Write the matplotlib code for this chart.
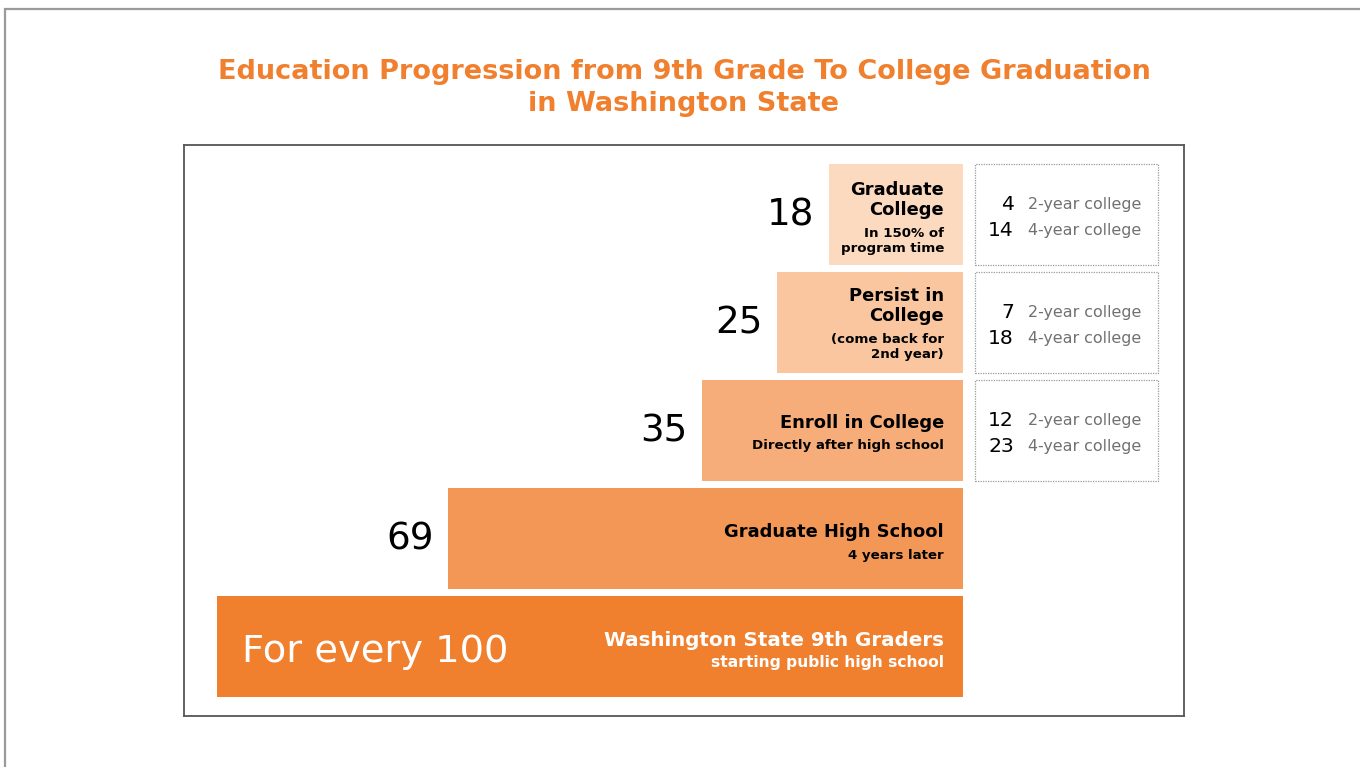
import matplotlib.pyplot as plt
from matplotlib.patches import Rectangle

plt.rcParams['font.family'] = 'DejaVu Sans'

# data, bottom row first
counts = [100, 69, 35, 25, 18]
big_labels = ['For every 100', '69', '35', '25', '18']
main_labels = ['Washington State 9th Graders', 'Graduate High School',
               'Enroll in College', 'Persist in\nCollege', 'Graduate\nCollege']
sub_labels = ['starting public high school', '4 years later',
              'Directly after high school', '(come back for\n2nd year)',
              'In 150% of\nprogram time']
bar_colors = ['#f07f2e', '#f29755', '#f6ad79', '#f9c6a0', '#fcdac0']

# split by college type, for the three college rows
split_rows = [2, 3, 4]
two_year = [12, 7, 4]
four_year = [23, 18, 14]

W, H = 1360, 767
fig = plt.figure(figsize=(W / 100, H / 100), dpi=100)

# page frame (only left/top edges visible)
fig.add_artist(Rectangle((5 / W, -0.1), 1.2, (H - 9) / H + 0.1,
                         transform=fig.transFigure, fill=False,
                         edgecolor='#9a9a9a', linewidth=1.6))

fig.text(684 / W, 1 - 72 / H,
         'Education Progression from 9th Grade To College Graduation',
         ha='center', va='center', color='#f07f2e', fontsize=19.5,
         fontweight='bold')
fig.text(684 / W, 1 - 104 / H, 'in Washington State',
         ha='center', va='center', color='#f07f2e', fontsize=19.5,
         fontweight='bold')

ax_l, ax_r, ax_t, ax_b = 184, 1184, 145, 716
ax = fig.add_axes([ax_l / W, 1 - ax_b / H, (ax_r - ax_l) / W, (ax_b - ax_t) / H])
pxu = 7.46          # pixels per student
row_px = 108.0      # pixels per row
x_max = (ax_r - ax_l) / pxu
end = (963 - ax_l) / pxu
y0 = -(ax_b - 646.5) / row_px
ax.set_xlim(0, x_max)
ax.set_ylim(y0, y0 + (ax_b - ax_t) / row_px)
ax.set_xticks([])
ax.set_yticks([])
for s in ax.spines.values():
    s.set_color('#555555')
    s.set_linewidth(1.3)

rows = list(range(len(counts)))
ax.barh(rows, counts, left=[end - c for c in counts], height=101 / row_px,
        color=bar_colors, edgecolor='none')

main_dy = [-6.5, -6.5, -7.5, -16.5, -14.5]
sub_dy = [15.5, 16.5, 14.5, 24.5, 26.5]
main_fs = [14.3, 12.9, 12.9, 12.9, 12.9]
sub_fs = [11.2, 9.6, 9.6, 9.6, 9.6]
lab_x = end - 19 / pxu
for i in rows:
    tc = 'white' if i == 0 else 'black'
    ax.text(lab_x, i - main_dy[i] / row_px, main_labels[i], ha='right',
            va='center', fontsize=main_fs[i], fontweight='bold', color=tc,
            linespacing=1.18)
    ax.text(lab_x, i - sub_dy[i] / row_px, sub_labels[i], ha='right',
            va='center', fontsize=sub_fs[i], fontweight='bold', color=tc,
            linespacing=1.12)
    if i == 0:
        ax.text((242 - ax_l) / pxu, i - 6 / row_px, big_labels[i], ha='left',
                va='center', fontsize=27.7, color='white')
    else:
        ax.text(end - counts[i] - 14 / pxu, i - 1 / row_px, big_labels[i],
                ha='right', va='center', fontsize=26.8, color='black')

bx0 = (975 - ax_l) / pxu
bx1 = (1158 - ax_l) / pxu
bh = 101 / row_px
for r, a, b in zip(split_rows, two_year, four_year):
    ax.add_patch(Rectangle((bx0, r - bh / 2), bx1 - bx0, bh, fill=False,
                           edgecolor='#9a9a9a', linewidth=0.9,
                           linestyle=(0, (1, 1))))
    for val, name, dy in ((a, '2-year college', -10.5), (b, '4-year college', 16.5)):
        yy = r - dy / row_px
        ax.text((1014 - ax_l) / pxu, yy, str(val), ha='right', va='center',
                fontsize=14.7, color='black')
        ax.text((1028 - ax_l) / pxu, yy, name, ha='left', va='center',
                fontsize=11.4, color='#707070')

fig.savefig('out.png', dpi=100)
